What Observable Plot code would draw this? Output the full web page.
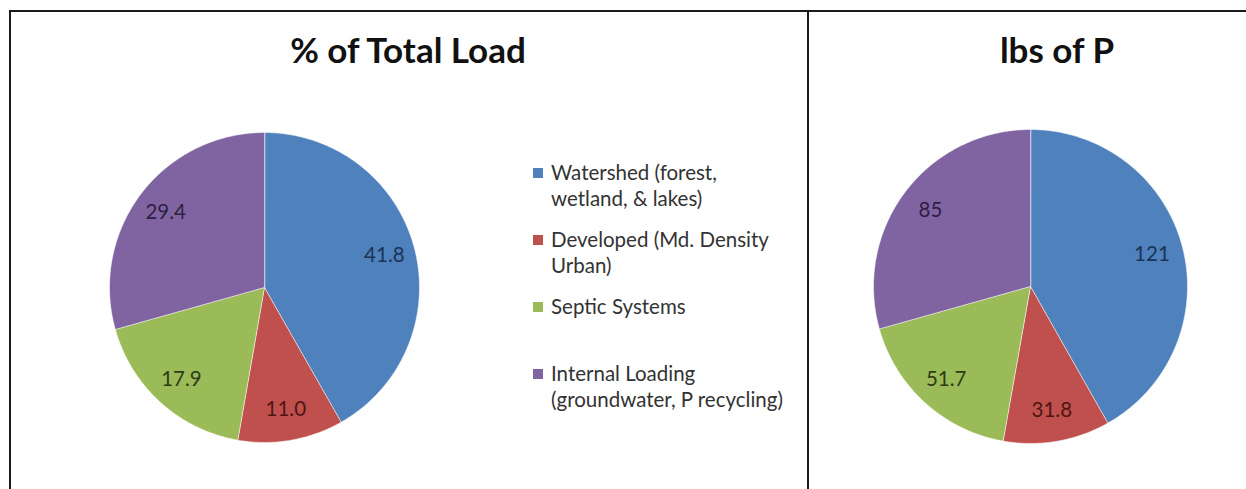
<!DOCTYPE html>
<html>
<head>
<meta charset="utf-8">
<script src="https://cdn.jsdelivr.net/npm/d3@7"></script>
<script src="https://cdn.jsdelivr.net/npm/@observablehq/plot@0.6"></script>
<style>
  html, body { margin: 0; padding: 0; background: #fff; }
  #page { position: relative; width: 1246px; height: 489px; overflow: hidden; background: #fff; font-family: Lato, "Open Sans", sans-serif; }
  .rule { position: absolute; background: #1a1a1a; }
  .title { position: absolute; font-weight: bold; font-size: 35px; color: #111; white-space: nowrap; transform: translateX(-50%); line-height: 1; }
  .pie { position: absolute; }
  .legend-item { position: absolute; left: 533px; font-size: 20.5px; line-height: 26px; color: #333; white-space: pre; }
  .legend-item .swatch { position: absolute; left: 0; top: 9px; width: 10px; height: 10px; }
  .legend-item .label { position: absolute; left: 18px; top: 0; }
</style>
</head>
<body>
<div id="page">
  <div class="rule" style="left:9px; top:10px; width:1237px; height:2px;"></div>
  <div class="rule" style="left:9px; top:10px; width:2px; height:479px;"></div>
  <div class="rule" style="left:807px; top:10px; width:2px; height:479px;"></div>
  <div class="title" style="left:408px; top:32px;">% of Total Load</div>
  <div class="title" style="left:1057px; top:32px;">lbs of P</div>
</div>
<script>
// Sources of phosphorus loading
const categories = [
  "Watershed (forest,\nwetland, & lakes)",
  "Developed (Md. Density\nUrban)",
  "Septic Systems",
  "Internal Loading\n(groundwater, P recycling)"
];
const sliceColors = ["#4f81bd", "#c0504d", "#9bbb59", "#8064a2"];
const labelColors = ["#1b3456", "#4e1614", "#2e3b15", "#2d2142"];

// Share of the total load (%)
const percentLoad = [41.8, 11.0, 17.9, 29.4];
const percentLabels = percentLoad.map(v => v.toFixed(1));

// Pounds of phosphorus
const poundsP = [121, 31.8, 51.7, 85];
const poundsLabels = poundsP.map(v => String(v));

const page = document.getElementById("page");

function pieChart(values, labels, radius) {
  const arcs = d3.pie().sort(null).startAngle(0).endAngle(2 * Math.PI)(values);
  const outline = [];
  const centers = [];
  arcs.forEach((a, i) => {
    const n = Math.max(2, Math.ceil((a.endAngle - a.startAngle) / (Math.PI / 180)));
    outline.push({key: i, x: 0, y: 0});
    for (let k = 0; k <= n; ++k) {
      const t = a.startAngle + (a.endAngle - a.startAngle) * k / n;
      outline.push({key: i, x: Math.sin(t), y: Math.cos(t)});
    }
    const mid = (a.startAngle + a.endAngle) / 2;
    centers.push({key: i, x: 0.8 * Math.sin(mid), y: 0.8 * Math.cos(mid), text: labels[i]});
  });
  const pad = 2;
  return Plot.plot({
    width: 2 * radius + 2 * pad,
    height: 2 * radius + 2 * pad,
    margin: pad,
    x: {domain: [-1, 1], axis: null},
    y: {domain: [-1, 1], axis: null},
    color: {type: "identity"},
    style: {background: "transparent", fontFamily: "Lato, 'Open Sans', sans-serif"},
    marks: [
      Plot.line(outline, {
        x: "x", y: "y", z: "key",
        fill: d => sliceColors[d.key],
        stroke: "#ffffff", strokeOpacity: 0.55, strokeWidth: 1,
        curve: "linear-closed"
      }),
      Plot.text(centers, {
        x: "x", y: "y", text: "text",
        fill: d => labelColors[d.key],
        fontSize: 20.5
      })
    ]
  });
}

function place(el, cx, cy, radius) {
  const wrap = document.createElement("div");
  wrap.className = "pie";
  wrap.style.left = (cx - radius - 2) + "px";
  wrap.style.top = (cy - radius - 2) + "px";
  wrap.appendChild(el);
  page.appendChild(wrap);
}

place(pieChart(percentLoad, percentLabels, 155), 264, 287, 155);
place(pieChart(poundsP, poundsLabels, 157), 1030, 286, 157);

// Legend, one slot per category
categories.forEach((name, i) => {
  const item = document.createElement("div");
  item.className = "legend-item";
  item.style.top = (159 + i * 67) + "px";
  const sw = document.createElement("div");
  sw.className = "swatch";
  sw.style.background = sliceColors[i];
  const lb = document.createElement("div");
  lb.className = "label";
  lb.textContent = name;
  item.appendChild(sw);
  item.appendChild(lb);
  page.appendChild(item);
});
</script>
</body>
</html>
